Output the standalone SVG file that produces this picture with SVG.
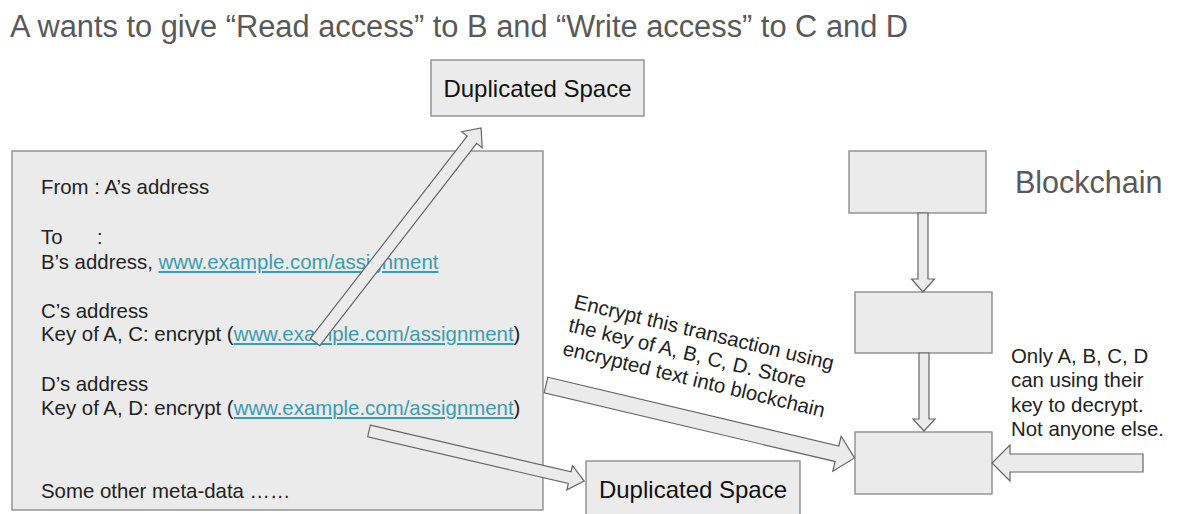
<svg xmlns="http://www.w3.org/2000/svg" width="1182" height="514" viewBox="0 0 1182 514">
  <style>
    .box { fill: #ebebeb; stroke: #8e8e8e; stroke-width: 1.4; }
    .arrow { fill: #ebebeb; stroke: #666666; stroke-width: 1.2; stroke-linejoin: miter; }
    .title { font-family: "Liberation Sans", Arial, sans-serif; font-size: 30.8px; fill: #595959; }
    .heading { font-family: "Liberation Sans", Arial, sans-serif; font-size: 30.5px; fill: #595959; }
    .body { font-family: "Liberation Sans", Arial, sans-serif; font-size: 20.4px; fill: #222222; }
    .label { font-family: "Liberation Sans", Arial, sans-serif; font-size: 24px; fill: #111111; text-anchor: middle; }
    .link { fill: #3a9cb2; text-decoration: underline; }
  </style>

  <rect width="1182" height="514" fill="#ffffff"/>

  <text class="title" x="10" y="37">A wants to give “Read access” to B and “Write access” to C and D</text>

  <g id="dup-space-top">
    <rect class="box" x="431" y="60" width="213" height="56"/>
    <text class="label" x="537.5" y="97">Duplicated Space</text>
  </g>

  <g id="transaction">
    <rect class="box" x="12" y="151" width="531" height="359"/>
    <text class="body" x="41" y="194">From : A’s address</text>
    <text class="body" x="41" y="244">To<tspan x="97">:</tspan></text>
    <text class="body" x="41" y="269">B’s address, <tspan class="link">www.example.com/assignment</tspan></text>
    <text class="body" x="41" y="318">C’s address</text>
    <text class="body" x="41" y="341">Key of A, C: encrypt (<tspan class="link">www.example.com/assignment</tspan>)</text>
    <text class="body" x="41" y="391">D’s address</text>
    <text class="body" x="41" y="415">Key of A, D: encrypt (<tspan class="link">www.example.com/assignment</tspan>)</text>
    <text class="body" x="41" y="498">Some other meta-data ……</text>
  </g>

  <g id="dup-space-bottom">
    <rect class="box" x="586" y="461" width="214" height="60"/>
    <text class="label" x="693" y="498">Duplicated Space</text>
  </g>

  <g id="block-1">
    <rect class="box" x="849" y="151" width="137" height="62"/>
  </g>
  <g id="block-2">
    <rect class="box" x="855" y="292" width="137" height="61"/>
  </g>
  <g id="block-3">
    <rect class="box" x="855" y="432" width="137" height="62"/>
  </g>

  <g id="blockchain-label">
    <text class="heading" x="1015" y="193">Blockchain</text>
  </g>

  <g id="decrypt-note">
    <text class="body" x="1011" y="363">Only A, B, C, D</text>
    <text class="body" x="1011" y="387">can using their</text>
    <text class="body" x="1011" y="412">key to decrypt.</text>
    <text class="body" x="1011" y="436">Not anyone else.</text>
  </g>

  <g id="encrypt-note" transform="translate(573,308) rotate(13.5)">
    <text class="body" x="0" y="0">Encrypt this transaction using</text>
    <text class="body" x="0" y="24">the key of A, B, C, D. Store</text>
    <text class="body" x="0" y="48">encrypted text into blockchain</text>
  </g>

  <!-- block arrows: each drawn along +x, then placed and turned -->
  <g id="connectors">
    <polygon class="arrow" transform="translate(315,342) rotate(-52.2)" points="0,-6 256,-6 256,-13 271,0 256,13 256,6 0,6"/>
    <polygon class="arrow" transform="translate(369,431) rotate(13.1)" points="0,-6 206,-6 206,-12.5 221,0 206,12.5 206,6 0,6"/>
    <polygon class="arrow" transform="translate(546,385) rotate(13.3)" points="0,-8 299,-8 299,-18 317,0 299,18 299,8 0,8"/>
    <polygon class="arrow" transform="translate(923,213) rotate(90)" points="0,-5 66,-5 66,-11.5 79,0 66,11.5 66,5 0,5"/>
    <polygon class="arrow" transform="translate(924,353) rotate(90)" points="0,-5 66,-5 66,-11 78,0 66,11 66,5 0,5"/>
    <polygon class="arrow" transform="translate(1143,463) rotate(180)" points="0,-9 133,-9 133,-18 151,0 133,18 133,9 0,9"/>
  </g>
</svg>
